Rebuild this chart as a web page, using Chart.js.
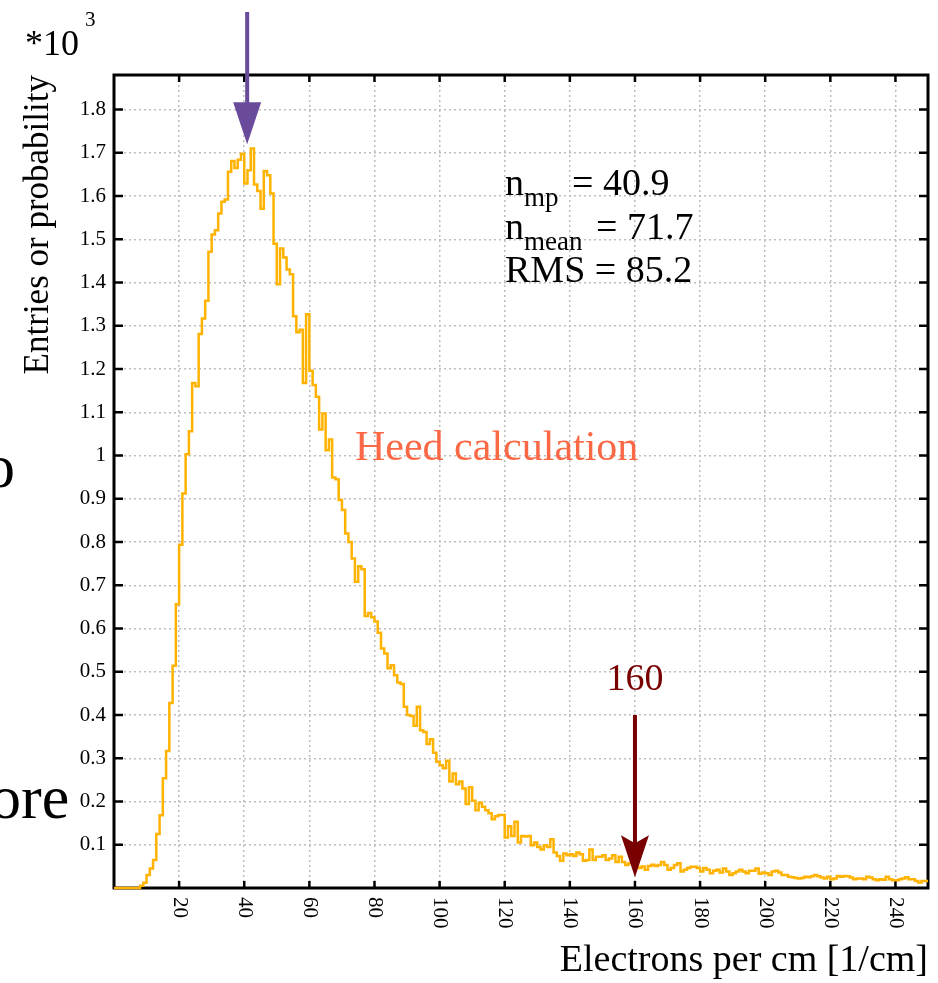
<!DOCTYPE html>
<html>
<head>
<meta charset="utf-8">
<script src="https://cdn.jsdelivr.net/npm/chart.js@4.4.1/dist/chart.umd.min.js"></script>
<style>
  html, body { margin: 0; padding: 0; background: #fff; }
</style>
</head>
<body>
<canvas id="hist-chart" width="938" height="983"></canvas>
<script>
// histogram of electrons per cm, bin width 1, counts in units of 10^3
const binWidth = 1;
const counts = [
  0, 0, 0, 0, 0, 0, 0, 0, 0, 0.005,
  0.012, 0.030, 0.045, 0.065, 0.125, 0.168, 0.254, 0.317, 0.428, 0.514,
  0.656, 0.794, 0.912, 1.003, 1.056, 1.168, 1.160, 1.281, 1.317, 1.358,
  1.471, 1.511, 1.521, 1.560, 1.587, 1.592, 1.656, 1.681, 1.665, 1.684,
  1.698, 1.629, 1.660, 1.710, 1.627, 1.612, 1.571, 1.658, 1.648, 1.606,
  1.490, 1.396, 1.479, 1.458, 1.430, 1.419, 1.322, 1.285, 1.291, 1.168,
  1.327, 1.196, 1.163, 1.136, 1.060, 1.097, 1.012, 1.037, 0.949, 0.945,
  0.897, 0.874, 0.820, 0.800, 0.762, 0.708, 0.744, 0.737, 0.629, 0.636,
  0.626, 0.616, 0.590, 0.554, 0.542, 0.508, 0.515, 0.492, 0.475, 0.472,
  0.419, 0.400, 0.398, 0.375, 0.419, 0.365, 0.361, 0.333, 0.344, 0.313,
  0.292, 0.284, 0.277, 0.294, 0.246, 0.265, 0.240, 0.246, 0.230, 0.194,
  0.233, 0.202, 0.180, 0.197, 0.188, 0.180, 0.173, 0.159, 0.166, 0.169,
  0.169, 0.117, 0.143, 0.120, 0.153, 0.105, 0.120, 0.119, 0.120, 0.099,
  0.105, 0.095, 0.089, 0.099, 0.095, 0.113, 0.082, 0.074, 0.063, 0.080,
  0.076, 0.078, 0.074, 0.082, 0.078, 0.063, 0.065, 0.089, 0.065, 0.072,
  0.072, 0.076, 0.065, 0.068, 0.076, 0.060, 0.072, 0.060, 0.053, 0.057,
  0.057, 0.050, 0.046, 0.050, 0.042, 0.051, 0.054, 0.051, 0.053, 0.060,
  0.053, 0.042, 0.046, 0.053, 0.057, 0.038, 0.042, 0.046, 0.049, 0.049,
  0.046, 0.038, 0.046, 0.042, 0.034, 0.040, 0.042, 0.036, 0.045, 0.038,
  0.030, 0.034, 0.038, 0.042, 0.038, 0.034, 0.040, 0.040, 0.045, 0.033,
  0.036, 0.034, 0.030, 0.038, 0.040, 0.036, 0.030, 0.030, 0.026, 0.025,
  0.023, 0.022, 0.023, 0.026, 0.025, 0.027, 0.030, 0.027, 0.024, 0.022,
  0.026, 0.020, 0.022, 0.028, 0.026, 0.028, 0.027, 0.024, 0.020, 0.022,
  0.022, 0.020, 0.026, 0.024, 0.020, 0.018, 0.020, 0.019, 0.026, 0.020,
  0.018, 0.018, 0.020, 0.022, 0.025, 0.020, 0.020, 0.016, 0.013, 0.016
];
const xTicks = [20, 40, 60, 80, 100, 120, 140, 160, 180, 200, 220, 240];
const yTicks = [0.1, 0.2, 0.3, 0.4, 0.5, 0.6, 0.7, 0.8, 0.9, 1.0,
                1.1, 1.2, 1.3, 1.4, 1.5, 1.6, 1.7, 1.8];
const xMax = 250;
const yMax = 1.88;
const statLines = [
  { sym: 'n', sub: 'mp', value: '40.9' },
  { sym: 'n', sub: 'mean', value: '71.7' },
  { sym: 'RMS', sub: '', value: '85.2' }
];
const nMostProbable = 40.9;
const cutValue = 160;

const SERIF = '"Liberation Serif", "Times New Roman", serif';

// step points: left edge of every bin, plus closing edge
const points = counts.map((c, i) => ({ x: i * binWidth, y: c }));
points.push({ x: counts.length * binWidth, y: counts[counts.length - 1] });

function arrow(ctx, x, yTop, yTip, color, notch) {
  ctx.strokeStyle = color;
  ctx.fillStyle = color;
  ctx.lineWidth = 4;
  ctx.beginPath();
  ctx.moveTo(x, yTop);
  ctx.lineTo(x, yTip - 30);
  ctx.stroke();
  ctx.beginPath();
  ctx.moveTo(x - 14, yTip - 42);
  ctx.lineTo(x, yTip - 42 + notch);
  ctx.lineTo(x + 14, yTip - 42);
  ctx.lineTo(x, yTip);
  ctx.closePath();
  ctx.fill();
}

const frame = {
  id: 'frame',
  beforeDatasetsDraw(chart) {
    const { ctx, chartArea: a, scales: { x, y } } = chart;
    ctx.save();
    ctx.strokeStyle = '#000';
    ctx.lineWidth = 2.5;
    ctx.beginPath();
    yTicks.forEach(v => {
      const py = y.getPixelForValue(v);
      ctx.moveTo(a.left, py); ctx.lineTo(a.left + 9, py);
      ctx.moveTo(a.right, py); ctx.lineTo(a.right - 9, py);
    });
    xTicks.forEach(v => {
      const px = x.getPixelForValue(v);
      ctx.moveTo(px, a.bottom); ctx.lineTo(px, a.bottom - 7);
      ctx.moveTo(px, a.top); ctx.lineTo(px, a.top + 7);
    });
    ctx.stroke();
    ctx.lineWidth = 3;
    ctx.strokeRect(a.left, a.top, a.right - a.left, a.bottom - a.top);
    ctx.restore();
  },
  afterDraw(chart) {
    const { ctx, chartArea: a, scales: { x, y } } = chart;
    ctx.save();
    ctx.fillStyle = '#000';

    // rotated x tick labels (reading downwards)
    ctx.font = '21px ' + SERIF;
    ctx.textAlign = 'left';
    ctx.textBaseline = 'middle';
    xTicks.forEach(v => {
      ctx.save();
      ctx.translate(x.getPixelForValue(v), a.bottom + 9);
      ctx.rotate(Math.PI / 2);
      ctx.fillText(String(v), 0, 0);
      ctx.restore();
    });

    // *10^3 multiplier
    ctx.textBaseline = 'alphabetic';
    ctx.font = '36px ' + SERIF;
    ctx.fillText('*10', 25, 55);
    ctx.font = '21px ' + SERIF;
    ctx.fillText('3', 85, 26);

    // statistics box
    statLines.forEach((s, i) => {
      const base = 195 + i * 43.5;
      let px = 505;
      ctx.font = '38px ' + SERIF;
      ctx.fillText(s.sym, px, base);
      px += ctx.measureText(s.sym).width;
      if (s.sub) {
        ctx.font = '27px ' + SERIF;
        ctx.fillText(s.sub, px, base + 11);
        px += ctx.measureText(s.sub).width + 4;
      }
      ctx.font = '38px ' + SERIF;
      ctx.fillText(' = ' + s.value, px, base);
    });

    // label
    ctx.fillStyle = '#fa6846';
    ctx.font = '42px ' + SERIF;
    ctx.fillText('Heed calculation', 355, 460);

    // most probable value arrow
    arrow(ctx, x.getPixelForValue(nMostProbable), 12, y.getPixelForValue(1.72), '#6a4a9a', 0);

    // cut arrow
    const cx = x.getPixelForValue(cutValue);
    arrow(ctx, cx, y.getPixelForValue(0.40), y.getPixelForValue(0.025), '#780000', 8);
    ctx.fillStyle = '#780000';
    ctx.font = '38px ' + SERIF;
    ctx.textAlign = 'center';
    ctx.fillText(String(cutValue), cx, 690);

    // words of the slide behind the figure
    ctx.fillStyle = '#000';
    ctx.textAlign = 'left';
    ctx.font = '62px ' + SERIF;
    ctx.fillText('o', -16, 487);
    ctx.fillText('ore', -10, 818);
    ctx.restore();
  }
};

new Chart(document.getElementById('hist-chart'), {
  type: 'line',
  data: {
    datasets: [{
      data: points,
      stepped: 'after',
      borderColor: '#ffb300',
      borderWidth: 2.5,
      pointRadius: 0,
      fill: false,
      clip: 6
    }]
  },
  options: {
    responsive: false,
    animation: false,
    devicePixelRatio: 1,
    layout: { padding: { top: 75, right: 10, left: 0, bottom: 0 } },
    plugins: { legend: { display: false }, tooltip: { enabled: false } },
    scales: {
      x: {
        type: 'linear',
        min: 0,
        max: xMax,
        afterBuildTicks: s => { s.ticks = [0].concat(xTicks).map(v => ({ value: v })); },
        afterFit: s => { s.height = 95; },
        ticks: { display: false },
        grid: { color: '#bdbdbd', lineWidth: 1.5, drawTicks: false },
        border: { display: false, dash: [2, 3] },
        title: {
          display: true,
          text: 'Electrons per cm [1/cm]',
          align: 'end',
          color: '#000',
          font: { family: SERIF, size: 38, lineHeight: 1 },
          padding: { top: 0, bottom: 3 }
        }
      },
      y: {
        min: 0,
        max: yMax,
        afterBuildTicks: s => { s.ticks = [0].concat(yTicks).map(v => ({ value: v })); },
        afterFit: s => { s.width = 114; },
        ticks: {
          color: '#000',
          padding: 8,
          font: { family: SERIF, size: 21 },
          callback: v => (v === 0 ? '' : String(Math.round(v * 10) / 10))
        },
        grid: { color: '#bdbdbd', lineWidth: 1.5, drawTicks: false },
        border: { display: false, dash: [2, 3] },
        title: {
          display: true,
          text: 'Entries or probability',
          align: 'end',
          color: '#000',
          font: { family: SERIF, size: 35, lineHeight: 1 },
          padding: { top: 21, bottom: 0 }
        }
      }
    }
  },
  plugins: [frame]
});
</script>
</body>
</html>
